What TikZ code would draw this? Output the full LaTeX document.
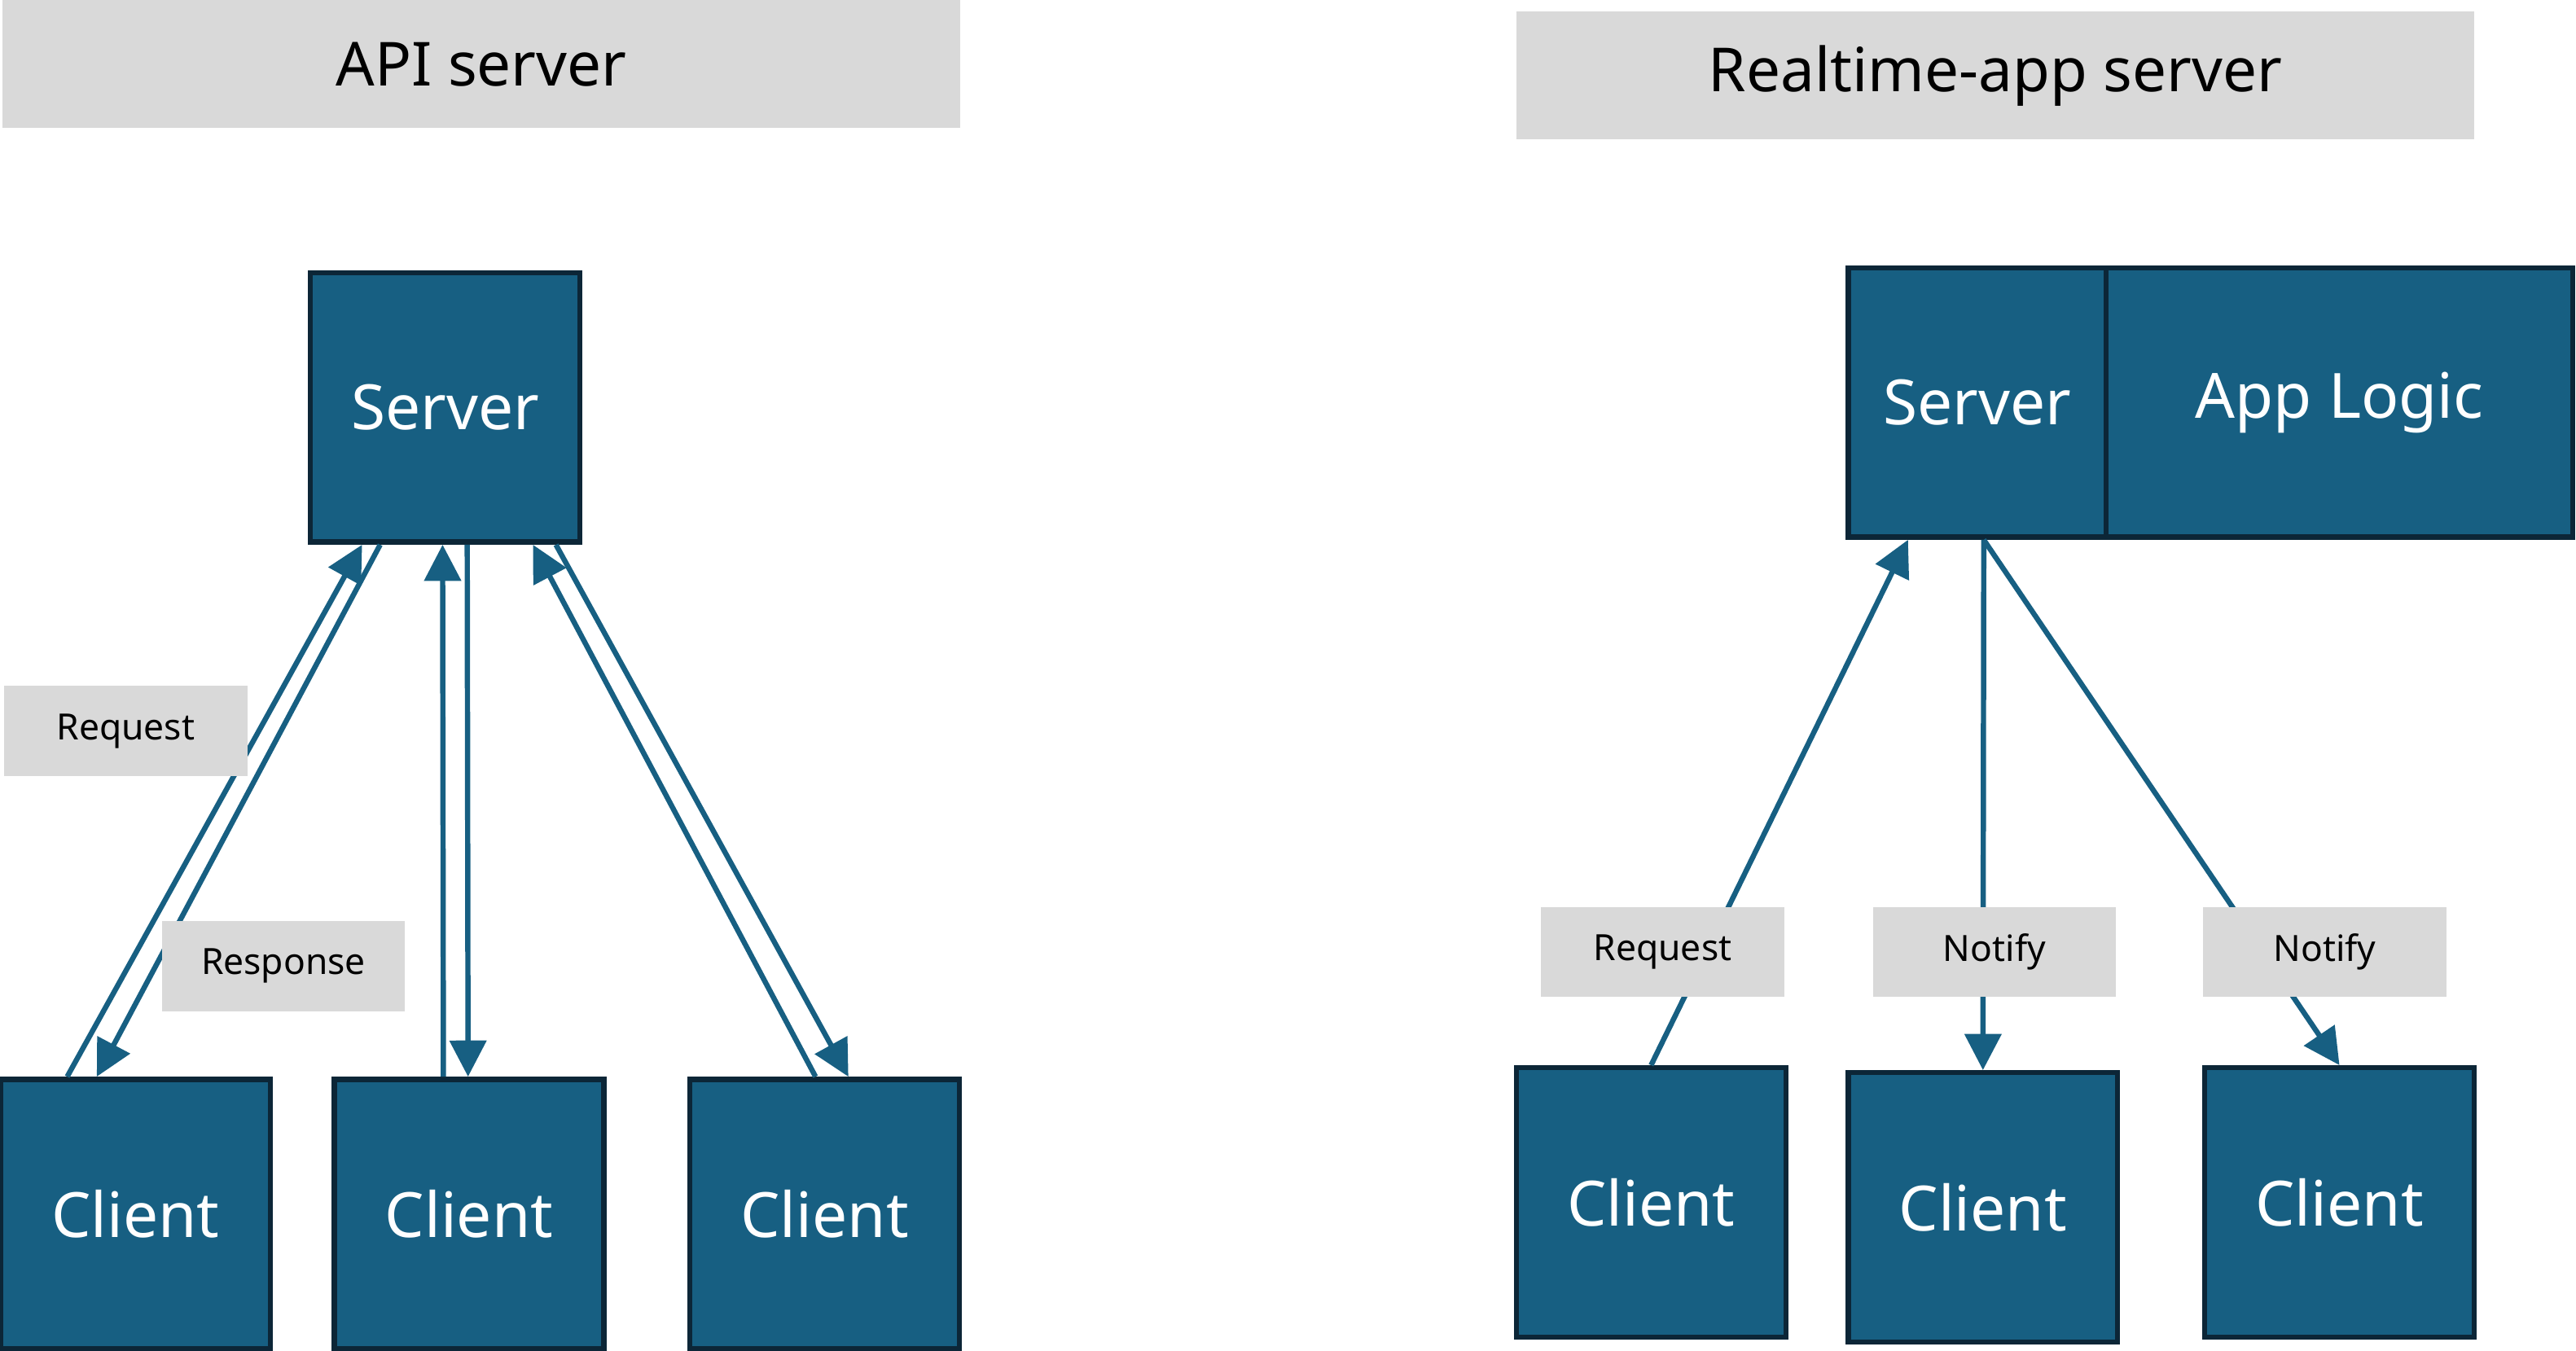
\documentclass[tikz,border=0pt]{standalone}
\usepackage{fontspec}
\setmainfont{Noto Sans}
\usetikzlibrary{arrows.meta}
\definecolor{boxblue}{HTML}{175F82}
\definecolor{boxline}{HTML}{0C2637}
\definecolor{taggrey}{HTML}{D9D9D9}
\begin{document}
\begin{tikzpicture}[x=1pt, y=-1pt,
        box/.style = {draw=boxline, fill=boxblue, line width=3.2pt, text=white, inner sep=0pt,
            minimum width=164pt, minimum height=164pt, font=\fontsize{38}{44}\selectfont},
        title/.style = {fill=taggrey, inner sep=0pt, minimum width=583pt, minimum height=78pt,
            font=\fontsize{37}{44}\selectfont},
        tag/.style = {fill=taggrey, inner sep=0pt, minimum width=148pt, minimum height=55pt,
            font=\fontsize{22}{26}\selectfont},
        link/.style = {draw=boxblue, line width=3.2pt, -{Triangle[length=22pt,width=22pt]}}]
    \useasboundingbox (0,0) rectangle (1568,822);
    % API server
    \node[title] (t1) at (293,39) {API server};
    \node[box] (srv) at (271,248) {Server};
    \node[box] (c1) at (82.5,739) {Client};
    \node[box] (c2) at (285.5,739) {Client};
    \node[box] (c3) at (502,739) {Client};
    \draw[link] ([xshift=42pt]c1.north west) -- ([xshift=33pt]srv.south west);
    \draw[link] ([xshift=44pt]srv.south west) -- ([xshift=60pt]c1.north west);
    \draw[link] ([xshift=68pt]c2.north west) -- ([xshift=82pt]srv.south west);
    \draw[link] ([xshift=97pt]srv.south west) -- ([xshift=83pt]c2.north west);
    \draw[link] ([xshift=78pt]c3.north west) -- ([xshift=137pt]srv.south west);
    \draw[link] ([xshift=151pt]srv.south west) -- ([xshift=98pt]c3.north west);
    \node[tag] (req) at (76.5,445) {Request};
    \node[tag] (resp) at (172.5,588) {Response};
    % Realtime-app server
    \node[title] (t2) at (1214.5,46) {Realtime-app server};
    \node[box, minimum width=157pt] (rsrv) at (1203.5,245) {Server};
    \node[box, minimum width=284pt] (app) at (1424,245) {App Logic};
    \node[box] (r1) at (1005,732) {Client};
    \node[box] (r2) at (1207,735) {Client};
    \node[box] (r3) at (1424,732) {Client};
    \draw[link] (r1.north) -- ([xshift=38pt]rsrv.south west);
    \draw[link] ([xshift=4pt]rsrv.south) -- (r2.north);
    \draw[link] ([xshift=4pt]rsrv.south) -- (r3.north);
    \node[tag] (rreq) at (1012,579.5) {Request};
    \node[tag] (nt1) at (1214,579.5) {Notify};
    \node[tag] (nt2) at (1415,579.5) {Notify};
\end{tikzpicture}
\end{document}
